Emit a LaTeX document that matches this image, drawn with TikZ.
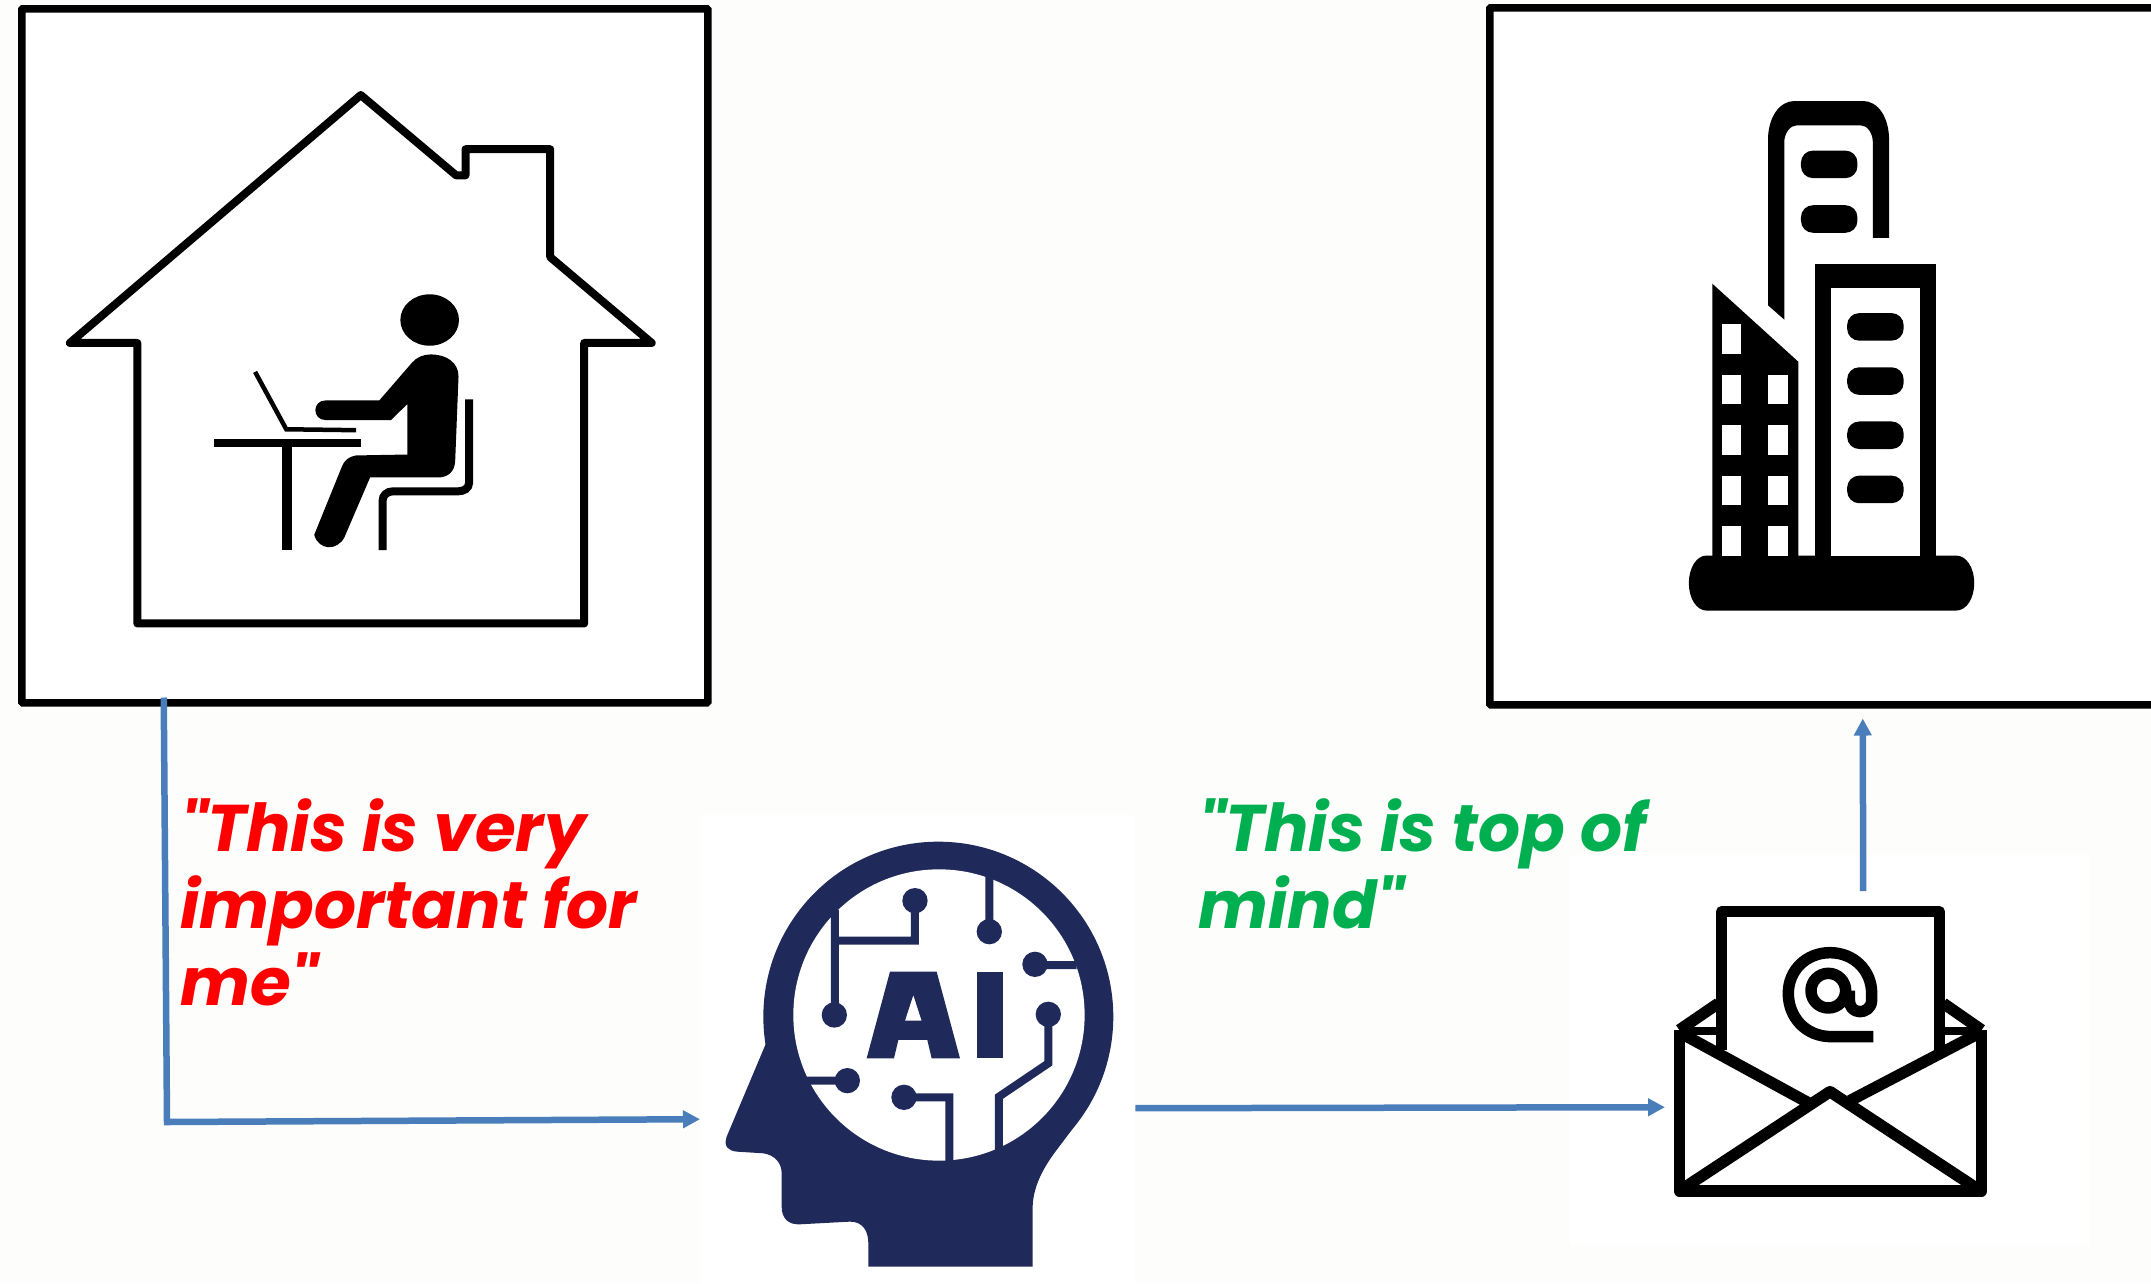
\documentclass[tikz,border=0pt]{standalone}
\usepackage{fontspec}
\usepackage{xcolor}
\usetikzlibrary{arrows.meta,positioning}
\newfontfamily\quotefont{Poppins}
\definecolor{paper}{HTML}{FDFDFB}
\definecolor{navy}{HTML}{1F2A5B}
\definecolor{flowblue}{HTML}{4A7EBB}
\definecolor{redquote}{HTML}{FF0000}
\definecolor{greenquote}{HTML}{00B050}
\tikzset{
  framebox/.style={
    rectangle, draw=black, fill=white, line width=7.5pt, rounded corners=1pt,
    minimum width=#1, inner sep=0pt, anchor=north west
  },
  iconpatch/.style={rectangle, fill=white, inner sep=0pt, anchor=north west},
  flowarrow/.style={
    -{Triangle[length=17pt,width=17pt]}, line width=6.5pt, color=flowblue
  },
  quotetext/.style={
    font=\quotefont\fontsize{66}{77}\selectfont\bfseries\itshape,
    align=left, anchor=north west, inner sep=0pt, text=#1
  },
  pillbar/.style={rounded corners=12pt},
}

\begin{document}
\begin{tikzpicture}[x=1pt, y=-1pt]
  \useasboundingbox (0,0) rectangle (2151,1283);
  \fill[paper] (0,0) rectangle (2151,1283);

  % boxes and patches
  \node[framebox=686pt, minimum height=694pt] at (18,5) (homebox) {};
  \node[framebox=680pt, minimum height=697pt] at (1486,4) (officebox) {};
  \node[iconpatch, minimum width=435pt, minimum height=468pt] at (700,815) (aipatch) {};
  \node[iconpatch, minimum width=520pt, minimum height=390pt] at (1570,855) (mailpatch) {};

  % house
  \begin{scope}[x=0.4655pt, y=-0.4591pt]
    \draw[line width=8pt, line join=round] (150,747) -- (775,207) -- (980,382) -- (1000,382)
      -- (1000,325) -- (1182,325) -- (1182,560) -- (1400,747) -- (1255,747) -- (1255,1358)
      -- (295,1358) -- (295,747) -- cycle;
    \fill (923,697) ellipse (63 and 56);
    \fill (925,772) .. controls (960,772) and (985,790) .. (985,820) -- (978,1000)
      .. controls (978,1030) and (960,1040) .. (940,1040) -- (795,1040) -- (740,1170)
      .. controls (725,1200) and (685,1200) .. (675,1165) -- (735,1015)
      .. controls (742,1000) and (750,995) .. (765,992) -- (875,990) -- (875,880) -- (840,915)
      -- (700,915) .. controls (670,915) and (670,872) .. (700,872) -- (815,872) -- (885,790)
      .. controls (895,778) and (910,772) .. (925,772) -- cycle;
    \draw[line width=8pt] (1008,870) -- (1008,1050) .. controls (1008,1065) and (995,1070) .. (985,1070)
      -- (845,1070) .. controls (830,1070) and (822,1080) .. (822,1090) -- (822,1198);
    \draw[line width=8pt] (460,965) -- (775,965);
    \draw[line width=9.5pt] (617,965) -- (617,1198);
    \draw[line width=4.5pt] (548,810) -- (615,935) -- (765,937);
  \end{scope}

  % buildings
  \begin{scope}[shift={(1480pt,0pt)}, x=0.4279pt, y=-0.4591pt]
    \fill (530,1210) -- (1112,1210) .. controls (1138,1210) and (1155,1238) .. (1155,1270)
      .. controls (1155,1302) and (1138,1330) .. (1112,1330) -- (530,1330)
      .. controls (505,1330) and (488,1302) .. (488,1270) .. controls (488,1238) and (505,1210) .. (530,1210) -- cycle;
    \fill (673,665) -- (673,305) .. controls (673,255) and (700,220) .. (735,220) -- (895,220)
      .. controls (930,220) and (956,255) .. (956,305) -- (956,518) -- (918,518) -- (918,310)
      .. controls (918,290) and (905,273) .. (890,273) -- (740,273)
      .. controls (725,273) and (711,290) .. (711,310) -- (711,696) -- cycle;
    \foreach \py in {328,447} { \fill[pillbar] (750,\py) rectangle (882,\py+60); }
    \fill (783,575) rectangle (1065,1215);
    \fill[white] (820,628) rectangle (1028,1210);
    \foreach \py in {682,800,918,1036} { \fill[pillbar] (858,\py) rectangle (990,\py+60); }
    \fill (543,618) -- (744,788) -- (744,1215) -- (543,1215) -- cycle;
    \fill[white] (565,706) rectangle (610,770);
    \foreach \py in {816,926,1036,1146} {
      \fill[white] (565,\py) rectangle (610,\py+64);
      \fill[white] (673,\py) rectangle (719,\py+64);
    }
  \end{scope}

  % head
  \begin{scope}[shift={(700pt,-810pt)}, x=0.3333pt, y=-0.3333pt]
    \fill[navy] (715,620) circle (525);
    \fill[navy] (198,700) -- (80,980) .. controls (70,1010) and (85,1022) .. (110,1025) -- (190,1030)
      .. controls (225,1035) and (245,1060) .. (245,1090) -- (245,1190)
      .. controls (245,1225) and (265,1245) .. (300,1243) -- (450,1235)
      .. controls (490,1235) and (505,1265) .. (505,1300) -- (505,1370) -- (998,1370) -- (998,1190)
      .. controls (1000,1120) and (1040,1060) .. (1070,1020)
      .. controls (1130,940) and (1180,880) .. (1215,760) -- cycle;
    \fill[white] (717,615) circle (437);
    \fill[navy, even odd rule] (570,485) -- (710,485) -- (780,745) -- (695,745) -- (682,690) -- (595,690)
      -- (582,745) -- (500,745) -- cycle (640,555) -- (665,632) -- (615,632) -- cycle;
    \fill[navy] (830,485) rectangle (910,745);
    \draw[navy, line width=8pt] (405,300) -- (405,615) (405,392) -- (645,392) -- (645,272)
      (868,200) -- (868,365) (1130,465) -- (1005,465)
      (1045,613) -- (1045,760) -- (897,860) -- (897,1025)
      (320,812) -- (442,812) (612,862) -- (748,862) -- (748,1055);
    \foreach \dx/\dy in {403/615,645/272,868/365,1005/463,1045/613,442/812,612/862} {
      \fill[navy] (\dx,\dy) circle (38);
    }
  \end{scope}

  % envelope
  \begin{scope}[shift={(1600pt,-860pt)}, x=0.3333pt, y=-0.3333pt, line width=11.5pt, line join=round]
    \draw (365,570) -- (365,155) -- (1018,155) -- (1018,570);
    \draw (238,510) -- (238,993) -- (1145,993) -- (1145,510);
    \draw (238,510) -- (355,430) (1145,510) -- (1030,430);
    \draw[line width=8pt] (238,512) -- (365,512) (1018,512) -- (1145,512);
    \draw (240,518) -- (628,730) (1140,518) -- (750,722);
    \draw (250,985) -- (690,695) -- (1130,985);
    \draw (820,530) -- (695,530) .. controls (615,530) and (565,470) .. (565,400)
      .. controls (565,330) and (620,278) .. (690,278) .. controls (760,278) and (815,330) .. (815,400)
      -- (815,420) .. controls (815,445) and (795,455) .. (780,455)
      .. controls (760,455) and (748,440) .. (748,420) -- (748,392);
    \draw (685,392) circle (52);
  \end{scope}

  % quotes
  \node[quotetext=redquote] at (180,798) (redtext) {"This is very\\important for\\me"};
  \node[quotetext=greenquote] at (1198,798) (greentext) {"This is top of\\mind"};

  % connectors
  \coordinate (homeout) at ([xshift=-201pt,yshift=9pt]homebox.south);
  \coordinate (homebend) at (167,1122);
  \draw[flowarrow] (homeout) -- (homebend) -- ([yshift=-70pt]aipatch.west);
  \draw[flowarrow] ([yshift=-59pt]aipatch.east) -- ([xshift=95pt,yshift=-57pt]mailpatch.west);
  \draw[flowarrow] ([xshift=33pt,yshift=-36pt]mailpatch.north) -- ([xshift=33pt,yshift=-10pt]officebox.south);
\end{tikzpicture}
\end{document}
